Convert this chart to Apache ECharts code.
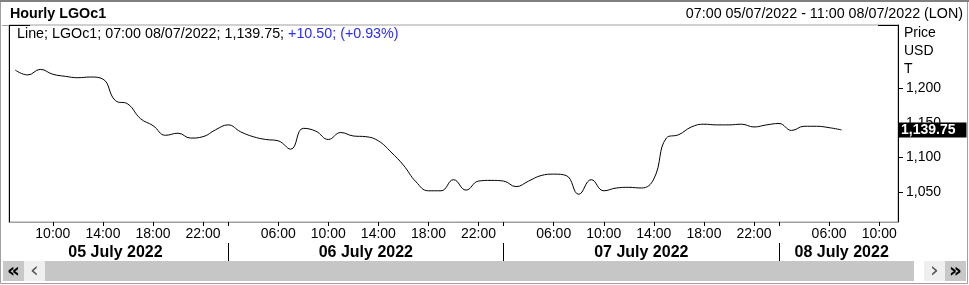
<!DOCTYPE html>
<html><head><meta charset="utf-8">
<script src="https://cdn.jsdelivr.net/npm/echarts@6/dist/echarts.min.js"></script>
<style>html,body{margin:0;padding:0;background:#fff}#c{width:969px;height:285px}</style>
</head><body><div id="c"></div>
<script>
// ---- data ----
const sessionHours = ['02:00','03:00','04:00','05:00','06:00','07:00','08:00','09:00','10:00','11:00','12:00',
  '13:00','14:00','15:00','16:00','17:00','18:00','19:00','20:00','21:00','22:00','23:00'];
const days = ['05/07','06/07','07/07','08/07'];
const dayTitles = ['05 July 2022','06 July 2022','07 July 2022','08 July 2022'];
const firstHour = '07:00';
const lastHour = '11:00';
const labelHours = ['06:00','10:00','14:00','18:00','22:00'];
const dayStartHour = '02:00';
const prices = [1226,1219,1227,1220,1217,1215,1216,1213,1182,1177,1156,1146,1132,1135,1128,1130,1140,
  1147,1137,1130,1126,1124,1112,1142,1138,1126,1136,1131,1130,1124,1108,1089,1065,1052,1052,1068,1053,1066,1067,
  1066,1058,1066,1074,1076,1074,1047,1068,1052,1056,1057,1056,1069,1128,1133,1144,1148,1147,1147,1148,1144,1147,1149,
  1139,1145,1145,1143,1139.75];
const yTicks = [1050,1100,1150,1200];
const yMin = 1007, yMax = 1291;
const chartTitle = 'Hourly LGOc1';
const rangeText = '07:00 05/07/2022 - 11:00 08/07/2022 (LON)';
const legendMain = 'Line; LGOc1; 07:00 08/07/2022; 1,139.75; ';
const legendChange = '+10.50; (+0.93%)';
const yHeader = ['Price','USD','T'];

// ---- build categories ----
const categories = [];
days.forEach((d, di) => {
  sessionHours.forEach(h => {
    if (di === 0 && h < firstHour) return;
    if (di === days.length - 1 && h > lastHour) return;
    categories.push(d + ' ' + h);
  });
});
const hourOf = v => v.split(' ')[1];
// day label index: middle of each day's visible segment
const dayLabelIdx = {};
days.forEach((d, di) => {
  const s0 = categories.indexOf(d + ' ' + dayStartHour);
  const s = s0 < 0 ? -0.5 : s0;
  const e0 = di < days.length - 1 ? categories.indexOf(days[di + 1] + ' ' + dayStartHour) : -1;
  const e = e0 < 0 ? categories.length - 0.5 : e0;
  dayLabelIdx[Math.round((s + e) / 2)] = dayTitles[di];
});
const fmtNum = v => v.toLocaleString('en-US', {minimumFractionDigits: v % 1 ? 2 : 0, maximumFractionDigits: 2});
const FONT = '"Liberation Sans", Arial, sans-serif';

const chart = echarts.init(document.getElementById('c'), null, {renderer: 'canvas'});
const W = 969, H = 285;
const gL = 9, gR = 898, gT = 25, gB = 222;
const corner = (x1, y1, x2, y2) => ({type: 'line', shape: {x1, y1, x2, y2}, style: {stroke: '#000', lineWidth: 1}, silent: true});
const arrow = (x, txt, size, color, bold) => ({type: 'text', x, y: 271.5, silent: true,
  style: {text: txt, fontSize: size, fontWeight: bold ? 'bold' : 'normal', fill: color, align: 'center', verticalAlign: 'middle', fontFamily: '"DejaVu Sans", sans-serif'}});
chart.setOption({
  animation: false,
  textStyle: {fontFamily: FONT},
  title: [
    {text: chartTitle, left: 10, top: 7, padding: 0, textStyle: {fontFamily: FONT, fontSize: 14.3, fontWeight: 'bold', color: '#000'}},
    {text: rangeText, right: 6, top: 7, padding: 0, textStyle: {fontFamily: FONT, fontSize: 14.3, fontWeight: 'normal', color: '#000'}},
    {text: '{a|' + legendMain + '}{b|' + legendChange + '}', left: 17, top: 27, padding: 0,
      textStyle: {fontWeight: 'normal', fontSize: 14.3, rich: {
        a: {fontFamily: FONT, fontSize: 14.3, fontWeight: 'normal', color: '#000'},
        b: {fontFamily: FONT, fontSize: 14.3, fontWeight: 'normal', color: '#2a2aff'}}}},
    {text: yHeader.join('\n'), left: 904, top: 24, padding: 0,
      textStyle: {fontFamily: FONT, fontSize: 14, fontWeight: 'normal', color: '#000', lineHeight: 18}}
  ],
  grid: {left: gL, right: W - gR, top: gT, bottom: H - gB, show: true, borderColor: '#a0a0a0', borderWidth: 1},
  xAxis: [
    {type: 'category', data: categories, boundaryGap: true, position: 'bottom',
      axisLine: {show: true, lineStyle: {color: '#a0a0a0'}},
      axisTick: {show: true, alignWithLabel: true, length: 4, lineStyle: {color: '#000'},
        interval: (i, v) => labelHours.includes(hourOf(v)) || hourOf(v) === dayStartHour},
      axisLabel: {interval: (i, v) => labelHours.includes(hourOf(v)), formatter: v => hourOf(v),
        fontFamily: FONT, fontSize: 14, color: '#000', margin: 5},
      splitLine: {show: false}},
    {type: 'category', data: categories, boundaryGap: true, position: 'bottom', offset: 21,
      axisLine: {show: false},
      axisTick: {show: true, alignWithLabel: true, length: 18, lineStyle: {color: '#000'},
        interval: (i, v) => hourOf(v) === dayStartHour},
      axisLabel: {interval: (i) => dayLabelIdx[i] !== undefined, formatter: (v, i) => dayLabelIdx[i] || '',
        fontFamily: FONT, fontSize: 16, fontWeight: 'bold', color: '#000', margin: 2},
      splitLine: {show: false}}
  ],
  yAxis: {type: 'value', position: 'right', min: yMin, max: yMax, splitNumber: 5, scale: true,
    axisLine: {show: true, lineStyle: {color: '#000'}},
    axisTick: {show: true, length: 5, customValues: yTicks, lineStyle: {color: '#000'}},
    axisLabel: {customValues: yTicks, formatter: v => fmtNum(v), fontFamily: FONT, fontSize: 14, color: '#000', margin: 8},
    splitLine: {show: false}},
  series: [{
    type: 'line', data: prices, xAxisIndex: 0, smooth: 0.45, symbol: 'none',
    lineStyle: {color: '#000', width: 1}, silent: true,
    markLine: {silent: true, symbol: ['none', 'none'], lineStyle: {color: 'transparent', width: 0},
      data: [{yAxis: prices[prices.length - 1]}],
      label: {position: 'end', distance: 1, formatter: p => fmtNum(p.value), color: '#fff', backgroundColor: '#000',
        fontFamily: FONT, fontSize: 14, fontWeight: 'bold', padding: [1, 11, 0, 2]}}
  }],
  graphic: [
    {type: 'rect', shape: {x: 0.5, y: 0.5, width: W - 2, height: H - 2}, style: {fill: 'none', stroke: '#a0a0a0', lineWidth: 1}, silent: true},
    {type: 'line', shape: {x1: 0, y1: 1, x2: W, y2: 1}, style: {stroke: '#808080', lineWidth: 2}, silent: true},
    {type: 'line', shape: {x1: 2, y1: gT + 0.5, x2: gL, y2: gT + 0.5}, style: {stroke: '#a0a0a0', lineWidth: 1}, silent: true},
    corner(gL, gT + 0.5, gL + 21, gT + 0.5), corner(gL, gB + 0.5, gL + 21, gB + 0.5),
    corner(gR - 20, gT + 0.5, gR, gT + 0.5), corner(gR - 20, gB + 0.5, gR, gB + 0.5),
    corner(gL + 0.5, gT, gL + 0.5, gB + 1),
    // scrollbar
    {type: 'rect', shape: {x: 3, y: 261, width: 21, height: 20}, style: {fill: '#c8c8c8'}, silent: true},
    {type: 'rect', shape: {x: 24, y: 261, width: 21, height: 20}, style: {fill: '#efefef'}, silent: true},
    {type: 'rect', shape: {x: 45, y: 261, width: 869, height: 20}, style: {fill: '#c6c6c6'}, silent: true},
    {type: 'rect', shape: {x: 924, y: 261, width: 21, height: 20}, style: {fill: '#efefef'}, silent: true},
    {type: 'rect', shape: {x: 945, y: 261, width: 21, height: 20}, style: {fill: '#c8c8c8'}, silent: true},
    arrow(13.5, '«', 20, '#000', true), arrow(34.5, '‹', 22, '#555', false),
    arrow(934.5, '›', 22, '#555', false), arrow(955.5, '»', 20, '#000', true)
  ]
});
</script></body></html>
